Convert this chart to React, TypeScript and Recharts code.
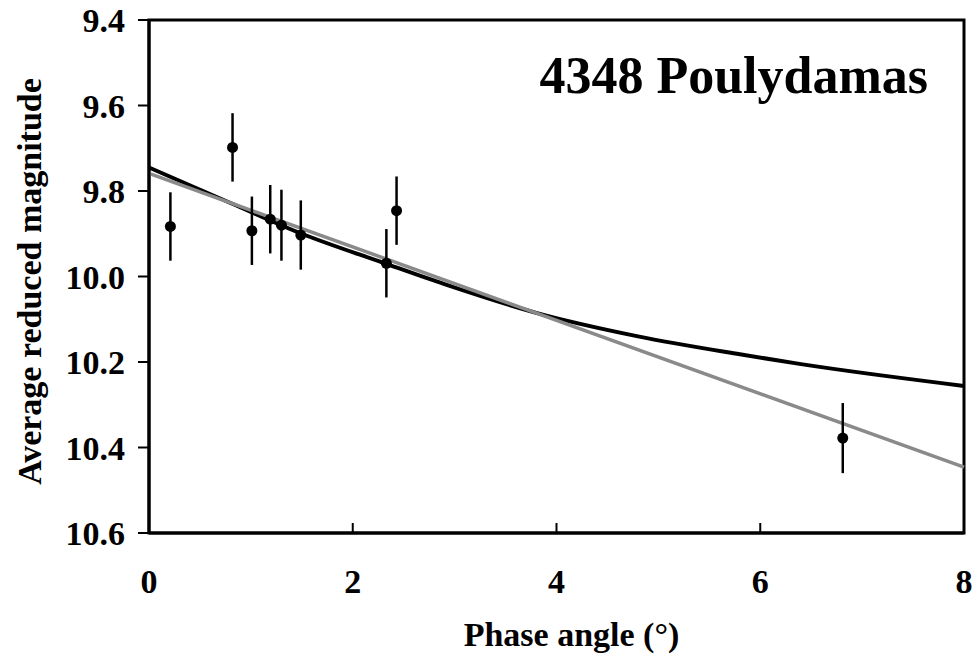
import React from 'react';
import {
  ComposedChart,
  Line,
  Scatter,
  ErrorBar,
  XAxis,
  YAxis,
  ReferenceArea,
} from 'recharts';

// Observed points (phase angle in degrees, reduced magnitude, 1-sigma error)
const obsPhase = [0.21, 0.82, 1.01, 1.19, 1.3, 1.49, 2.33, 2.43, 6.81];
const obsMag = [9.883, 9.698, 9.893, 9.866, 9.88, 9.903, 9.969, 9.846, 10.378];
const obsErr = [0.08, 0.08, 0.08, 0.08, 0.083, 0.081, 0.08, 0.08, 0.082];

// Linear fit (grey)
const linPhase = [0, 8];
const linMag = [9.759, 10.446];

// H-G type fit (black)
const hgPhase = [0, 0.8, 1.5, 2.3, 2.9, 3.8, 4.8, 5.8, 6.4, 8];
const hgMag = [9.745, 9.828, 9.9, 9.968, 10.018, 10.085, 10.14, 10.182, 10.205, 10.256];

const xTicks = [0, 2, 4, 6, 8];
const yTicks = [9.4, 9.6, 9.8, 10.0, 10.2, 10.4, 10.6];

const FONT = '"Liberation Serif", "Times New Roman", serif';

const obsData = obsPhase.map((x, i) => ({ x, y: obsMag[i], err: obsErr[i] }));
const linData = linPhase.map((x, i) => ({ x, y: linMag[i] }));
const hgData = hgPhase.map((x, i) => ({ x, y: hgMag[i] }));

const textStyle = { fill: '#000', fontSize: 34, fontWeight: 'bold', fontFamily: FONT };

// Rotated y-axis title, placed inside the axis box
const YTitle = (props: any) => {
  const vb = props.viewBox || { x: 0, y: 20, width: 149, height: 513 };
  const cx = vb.x + 41;
  const cy = vb.y + vb.height / 2 + 5;
  return (
    <text
      x={cx}
      y={cy}
      transform={`rotate(-90, ${cx}, ${cy})`}
      textAnchor="middle"
      style={textStyle}
    >
      Average reduced magnitude
    </text>
  );
};

const Dot = (p: any) => <circle cx={p.cx} cy={p.cy} r={5.5} fill="#000" />;

export default function App() {
  return (
    <div
      style={{ position: 'absolute', left: 0, top: 0, width: 974, height: 656, background: '#fff' }}
    >
      <ComposedChart width={974} height={656} margin={{ top: 20, right: 10, bottom: 0, left: 0 }}>
        <XAxis
          type="number"
          dataKey="x"
          domain={[0, 8]}
          ticks={xTicks}
          interval={0}
          height={123}
          axisLine={{ stroke: '#000', strokeWidth: 3 }}
          tickLine={{ stroke: '#000', strokeWidth: 2 }}
          tickSize={-10}
          tickMargin={46}
          tick={textStyle}
          label={{
            value: 'Phase angle (°)',
            position: 'insideBottom',
            offset: 10,
            dx: 15,
            style: textStyle,
          }}
        />
        <YAxis
          type="number"
          dataKey="y"
          domain={[9.4, 10.6]}
          reversed
          allowDataOverflow
          ticks={yTicks}
          interval={0}
          width={149}
          axisLine={{ stroke: '#000', strokeWidth: 3 }}
          tickLine={{ stroke: '#000', strokeWidth: 2 }}
          tickSize={11}
          tickMargin={13}
          tick={textStyle}
          tickFormatter={(v: number) => v.toFixed(1)}
          label={{ content: YTitle }}
        />
        {/* plot frame + object name */}
        <ReferenceArea
          x1={0}
          x2={8}
          y1={9.4}
          y2={10.6}
          fill="none"
          stroke="#000"
          strokeWidth={3}
          label={{
            value: '4348 Poulydamas',
            position: 'insideTopRight',
            offset: 36,
            style: { fill: '#000', fontSize: 52, fontWeight: 'bold', fontFamily: FONT },
          }}
        />
        <Line
          data={hgData}
          dataKey="y"
          type="monotone"
          stroke="#000"
          strokeWidth={4}
          dot={false}
          activeDot={false}
          isAnimationActive={false}
        />
        <Line
          data={linData}
          dataKey="y"
          type="linear"
          stroke="#8a8a8a"
          strokeWidth={3.5}
          dot={false}
          activeDot={false}
          isAnimationActive={false}
        />
        <Scatter data={obsData} dataKey="y" shape={Dot} isAnimationActive={false}>
          <ErrorBar dataKey="err" direction="y" width={0} stroke="#000" strokeWidth={2.5} />
        </Scatter>
      </ComposedChart>
    </div>
  );
}
